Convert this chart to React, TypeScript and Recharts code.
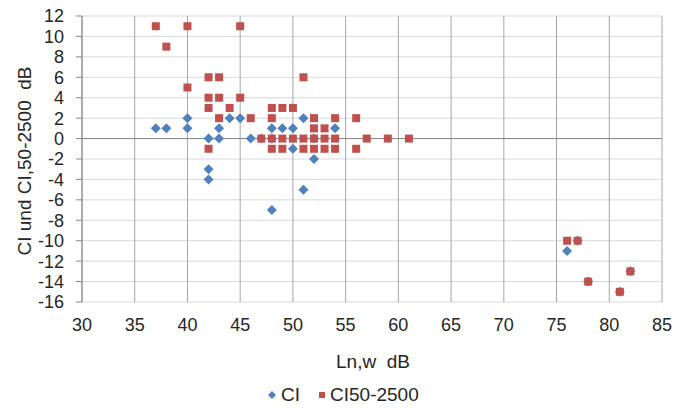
import React from "react";
import {
  ScatterChart,
  Scatter,
  XAxis,
  YAxis,
  CartesianGrid,
  ReferenceLine,
  Legend,
} from "recharts";

// CI values against Ln,w
const ciLnw = [37, 38, 40, 40, 42, 42, 42, 43, 43, 44, 45, 46, 47, 48, 48, 48, 49, 50, 50, 51, 51, 52, 52, 54, 76, 77, 78, 81, 82];
const ciVal = [1, 1, 2, 1, 0, -3, -4, 1, 0, 2, 2, 0, 0, 1, 0, -7, 1, 1, -1, 2, -5, -2, 0, 1, -11, -10, -14, -15, -13];

// CI50-2500 values against Ln,w
const ci50Lnw = [37, 40, 45, 38, 42, 43, 51, 40, 42, 43, 45, 42, 44, 48, 49, 50, 43, 46, 48, 52, 54, 56, 52, 53, 47, 48, 49, 50, 51, 52, 53, 54, 57, 59, 61, 42, 48, 49, 51, 52, 53, 54, 56, 76, 77, 78, 81, 82];
const ci50Val = [11, 11, 11, 9, 6, 6, 6, 5, 4, 4, 4, 3, 3, 3, 3, 3, 2, 2, 2, 2, 2, 2, 1, 1, 0, 0, 0, 0, 0, 0, 0, 0, 0, 0, 0, -1, -1, -1, -1, -1, -1, -1, -1, -10, -10, -14, -15, -13];

const xTicks = [30, 35, 40, 45, 50, 55, 60, 65, 70, 75, 80, 85];
const yTicks = [-16, -14, -12, -10, -8, -6, -4, -2, 0, 2, 4, 6, 8, 10, 12];

const seriesCI = ciLnw.map((x, i) => ({ x, y: ciVal[i] }));
const seriesCI50 = ci50Lnw.map((x, i) => ({ x, y: ci50Val[i] }));

const BLUE = "#4f81bd";
const RED = "#c0504d";
const FONT = "'Liberation Sans', Arial, sans-serif";
const TEXT = "#262626";
const FS = 18;
const FS_TITLE = 19;

const Diamond = (props: any) => {
  const { cx, cy } = props;
  if (cx == null || cy == null) return null;
  const r = 5;
  return (
    <path
      d={`M${cx},${cy - r}L${cx + r},${cy}L${cx},${cy + r}L${cx - r},${cy}Z`}
      fill={BLUE}
    />
  );
};

const Square = (props: any) => {
  const { cx, cy } = props;
  if (cx == null || cy == null) return null;
  const h = 4;
  return <rect x={cx - h} y={cy - h} width={2 * h} height={2 * h} fill={RED} />;
};

const LegendContent = () => (
  <svg width={675} height={26} style={{ display: "block" }}>
    <path d="M272,9L276,13L272,17L268,13Z" fill={BLUE} />
    <text x={281} y={19} fontSize={FS_TITLE} fontFamily={FONT} fill={TEXT}>
      CI
    </text>
    <rect x={319} y={10} width={6} height={6} fill={RED} />
    <text x={330} y={19} fontSize={FS_TITLE} fontFamily={FONT} fill={TEXT}>
      CI50-2500
    </text>
  </svg>
);

export default function App() {
  return (
    <div style={{ position: "absolute", left: 0, top: 0, background: "#fff" }}>
      <ScatterChart
        width={675}
        height={408}
        margin={{ top: 16, right: 13, left: 0, bottom: 0 }}
      >
        <CartesianGrid vertical={false} stroke="#d9d9d9" strokeWidth={1} />
        <CartesianGrid horizontal={false} stroke="#a6a6a6" strokeWidth={1} />
        <XAxis
          type="number"
          dataKey="x"
          domain={[30, 85]}
          ticks={xTicks}
          interval={0}
          axisLine={false}
          tickLine={false}
          tickMargin={10}
          height={80}
          tick={{ fontSize: FS, fontFamily: FONT, fill: TEXT }}
          label={{
            content: () => (
              <text
                x={373}
                y={368}
                textAnchor="middle"
                fontSize={FS_TITLE}
                fontFamily={FONT}
                fill={TEXT}
                style={{ whiteSpace: "pre" }}
              >
                {"Ln,w  dB"}
              </text>
            ),
          }}
        />
        <YAxis
          type="number"
          dataKey="y"
          domain={[-16, 12]}
          ticks={yTicks}
          interval={0}
          width={82}
          axisLine={{ stroke: "#868686" }}
          tickLine={{ stroke: "#868686" }}
          tickSize={6}
          tickMargin={12}
          tick={{ fontSize: FS, fontFamily: FONT, fill: TEXT }}
          label={{
            content: () => (
              <text
                x={31}
                y={161}
                transform="rotate(-90 31 161)"
                textAnchor="middle"
                fontSize={FS_TITLE}
                fontFamily={FONT}
                fill={TEXT}
                style={{ whiteSpace: "pre" }}
              >
                {"CI und CI,50-2500  dB"}
              </text>
            ),
          }}
        />
        <ReferenceLine y={0} stroke="#868686" strokeWidth={1} />
        <Scatter name="CI" data={seriesCI} shape={<Diamond />} isAnimationActive={false} />
        <Scatter name="CI50-2500" data={seriesCI50} shape={<Square />} isAnimationActive={false} />
        <Legend verticalAlign="bottom" height={26} content={<LegendContent />} />
      </ScatterChart>
    </div>
  );
}
